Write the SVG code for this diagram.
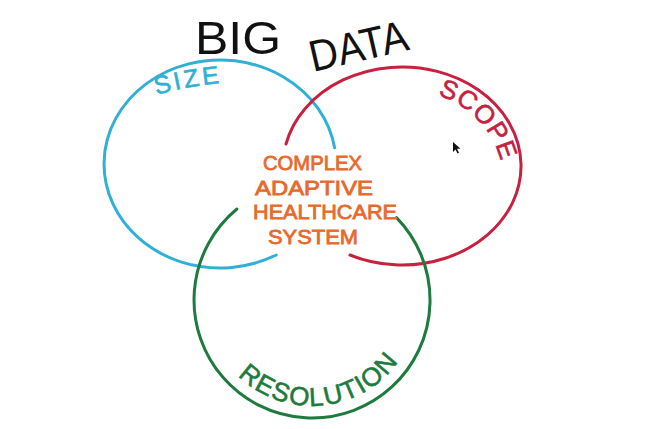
<svg xmlns="http://www.w3.org/2000/svg" width="658" height="429" viewBox="0 0 658 429">
<style>
.ring{fill:none;stroke-width:3;stroke-linecap:round}
.lbl{font-family:"Liberation Sans","DejaVu Sans",sans-serif}
</style>
<defs>
<path id="sizeP" d="M130,103 Q190,82 250,82"/>
<path id="scopeP" d="M349.6,113 A94 94 0 0 1 502.6,201.3"/>
<path id="resP" d="M206,300 A106 106 0 0 0 418,300"/>
</defs>
<rect width="658" height="429" fill="#ffffff"/>
<g id="title" class="lbl" fill="#111111">
<text x="195" y="54" font-size="47" textLength="86" lengthAdjust="spacingAndGlyphs">BIG</text>
<text x="313" y="72" font-size="44" textLength="100" lengthAdjust="spacingAndGlyphs" transform="rotate(-13 313 72)">DATA</text>
</g>
<g id="size">
<path class="ring" stroke="#2fb0d4" d="M334.6,147.7 A116 104 0 1 0 276.2,255"/>
<text class="lbl" fill="#2fb0d4" stroke="#2fb0d4" stroke-width="0.6" font-size="25" letter-spacing="3"><textPath href="#sizeP" startOffset="50%" text-anchor="middle">SIZE</textPath></text>
</g>
<g id="scope">
<path class="ring" stroke="#c8203f" d="M286,144 A119 99 0 1 1 350,255"/>
<text class="lbl" fill="#c8203f" stroke="#c8203f" stroke-width="0.6" font-size="26" letter-spacing="1"><textPath href="#scopeP" startOffset="141.6" text-anchor="middle">SCOPE</textPath></text>
</g>
<g id="resolution">
<path class="ring" stroke="#1e7a3e" d="M396.5,217.6 A118 118 0 1 1 236.9,209"/>
<text class="lbl" fill="#1e7a3e" stroke="#1e7a3e" stroke-width="0.6" font-size="26" letter-spacing="1.5"><textPath href="#resP" startOffset="53%" text-anchor="middle">RESOLUTION</textPath></text>
</g>
<g id="center" class="lbl" fill="#e8692c" stroke="#e8692c" stroke-width="0.8" font-size="21">
<text x="263" y="170" textLength="99" lengthAdjust="spacingAndGlyphs">COMPLEX</text>
<text x="255" y="194.5" textLength="118" lengthAdjust="spacingAndGlyphs">ADAPTIVE</text>
<text x="253" y="219" textLength="144" lengthAdjust="spacingAndGlyphs">HEALTHCARE</text>
<text x="268" y="243.5" textLength="90" lengthAdjust="spacingAndGlyphs">SYSTEM</text>
</g>
<polygon id="cursor" points="453,142 453,152 455.5,149.5 457.5,153.5 459,152.8 457,148.8 460.5,148.8" fill="#111111"/>
</svg>
